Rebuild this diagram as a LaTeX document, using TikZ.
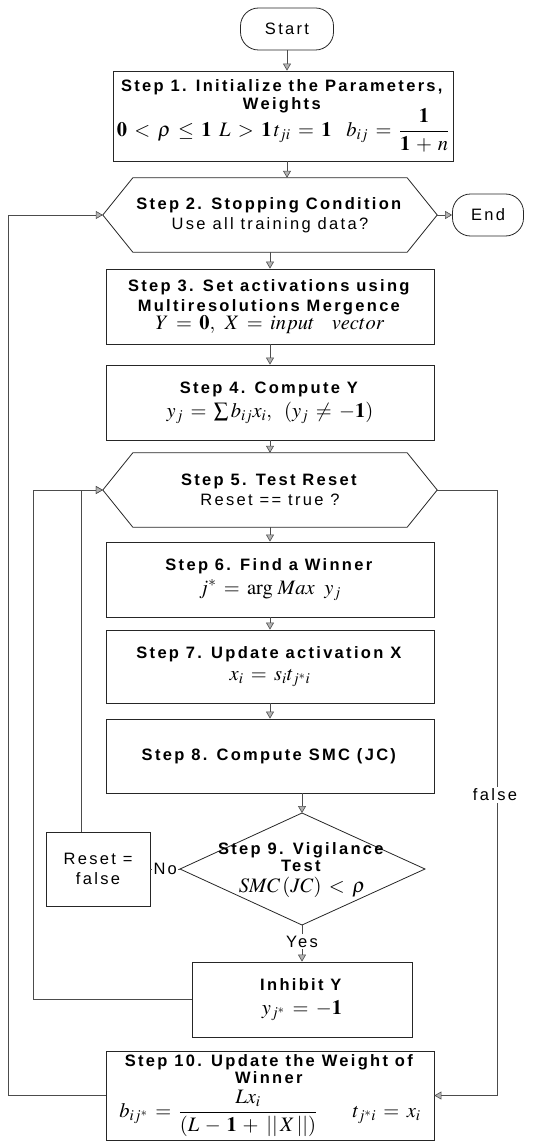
\documentclass[tikz,border=0pt]{standalone}
\usepackage{mathptmx}
\usepackage[no-math]{fontspec}
\setmainfont{Liberation Sans}[LetterSpace=14]
\usetikzlibrary{arrows.meta,calc}
\newcommand\txs{\fontsize{16.5}{20}\selectfont}
\newcommand\mth{\fontsize{20.5}{24}\selectfont\thickmuskip=6.5mu plus 2mu\medmuskip=5mu plus 2mu}
\tikzset{
  box/.style={draw=black!85, line width=0.8pt, minimum width=328pt, minimum height=75pt, align=center, inner sep=1pt, font=\txs},
  term/.style={draw=black!85, line width=0.8pt, rounded corners=18pt, minimum width=93pt, minimum height=42pt, font=\txs},
  hexbox/.style={minimum width=334pt, minimum height=74pt, align=center, inner sep=0pt, font=\txs},
  outline/.style={draw=black!85, line width=0.8pt},
  conn/.style={draw=black!70, line width=0.6pt},
  arr/.style={conn, -{Triangle[width=8pt,length=7pt,fill=gray!60]}},
  lbl/.style={font=\txs, fill=white, inner sep=1.5pt},
}
\begin{document}
\begin{tikzpicture}[x=1pt,y=-1pt]
\useasboundingbox (0,0) rectangle (555,1142);
% nodes
\node[term] (start) at (287,29) {Start};
\node[box, minimum width=340pt, minimum height=90pt] (s1) at (283,116)
  {\textbf{Step 1. Initialize the Parameters,}\\[-2pt]\textbf{Weights}\\[-5pt]
   {\mth$\mathbf{0} < \rho \le \mathbf{1}\; L > \mathbf{1}\, t_{ji} = \mathbf{1}\;\; b_{ij} = \displaystyle\frac{\mathbf{1}}{\mathbf{1}+n}$}};
\node[hexbox] (s2) at (270,215) {\textbf{Step 2. Stopping Condition}\\Use all training data?};
\node[term, minimum width=71pt] (end) at (488,215) {End};
\node[box] (s3) at (270,306.5)
  {\textbf{Step 3. Set activations using}\\\textbf{Multiresolutions Mergence}\\[-2pt]
   {\mth$Y = \mathbf{0},\; X = input\;\;\, vector$}};
\node[box] (s4) at (270,402.5)
  {\textbf{Step 4. Compute Y}\\[4pt]{\mth$y_j = \sum b_{ij}x_i,\;\, (y_j \ne -\mathbf{1})$}};
\node[hexbox] (s5) at (270,490) {\textbf{Step 5. Test Reset}\\Reset == true ?};
\node[box] (s6) at (270,579.5)
  {\textbf{Step 6. Find a Winner}\\[4pt]{\mth$j^{*} = \arg\, Max\;\, y_j$}};
\node[box, minimum height=73pt] (s7) at (270,666.5)
  {\textbf{Step 7. Update activation X}\\[2pt]{\mth$x_i = s_i t_{j^{*}i}$}};
\node[box, minimum height=74pt] (s8) at (270,756) {\textbf{Step 8. Compute SMC (JC)}};
% step 9 diamond
\coordinate (s9n) at (302,813);
\coordinate (s9s) at (302,925);
\coordinate (s9w) at (180,869);
\coordinate (s9e) at (425,869);
\draw[outline] (s9n) -- (s9e) -- (s9s) -- (s9w) -- cycle;
\node[align=center, font=\txs] (s9) at (302,870)
  {\textbf{Step 9. Vigilance}\\[-3pt]\textbf{Test}\\[1pt]{\mth$SMC\,(JC) < \rho$}};
\node[box, minimum width=104pt, minimum height=74pt] (rst) at (98,869) {Reset =\\false};
\node[box, minimum width=220pt, minimum height=75pt] (inh) at (302,999.5)
  {\textbf{Inhibit Y}\\[4pt]{\mth$y_{j^{*}} = -\mathbf{1}$}};
\node[box, minimum height=89pt, inner sep=0pt] (s10) at (270,1095.5)
  {\textbf{Step 10. Update the Weight of}\\[-3pt]\textbf{Winner}\\[6pt]
   {\mth$b_{ij^{*}} = \displaystyle\frac{Lx_i}{(L-\mathbf{1}+\,||\,X\,||)}\quad\;\; t_{j^{*}i} = x_i$}};
% hexagon outlines
\foreach \h in {s2,s5}{
  \draw[outline] (\h.west) -- ($(\h.north west)+(30,0)$) -- ($(\h.north east)+(-30,0)$)
    -- (\h.east) -- ($(\h.south east)+(-30,0)$) -- ($(\h.south west)+(30,0)$) -- cycle;
}
% helper coordinates
\coordinate (lo) at (8,0);
\coordinate (lm) at (33,0);
\coordinate (lr) at (81,0);
\coordinate (rr) at (497,0);
% main flow
\draw[arr] (start.south) -- (start.south |- s1.north);
\draw[arr] (s1.south -| start) -- (s2.north -| start);
\draw[arr] (s2.east) -- (end.west);
\draw[arr] (s2.south) -- (s3.north);
\draw[arr] (s3.south) -- (s4.north);
\draw[arr] (s4.south) -- (s5.north);
\draw[arr] (s5.south) -- (s6.north);
\draw[arr] (s6.south) -- (s7.north);
\draw[arr] (s7.south) -- (s8.north);
\draw[arr] (s9n |- s8.south) -- (s9n);
\draw[arr] (s9s) -- node[lbl, pos=0.45] (yes) {Yes} (inh.north);
\draw[conn] (s9w) -- node[lbl] (no) {No} (rst.east);
% loops
\draw[arr] (s10.west) -| (lo |- s2.west) -- (s2.west);
\draw[arr] (inh.west) -| (lm |- s5.west) -- (s5.west);
\draw[arr] (lr |- rst.north) |- (s5.west);
\draw[arr] (s5.east) -| (rr |- s10.east) -- (s10.east);
\node[lbl] (fl) at (495,795) {false};
\end{tikzpicture}
\end{document}
